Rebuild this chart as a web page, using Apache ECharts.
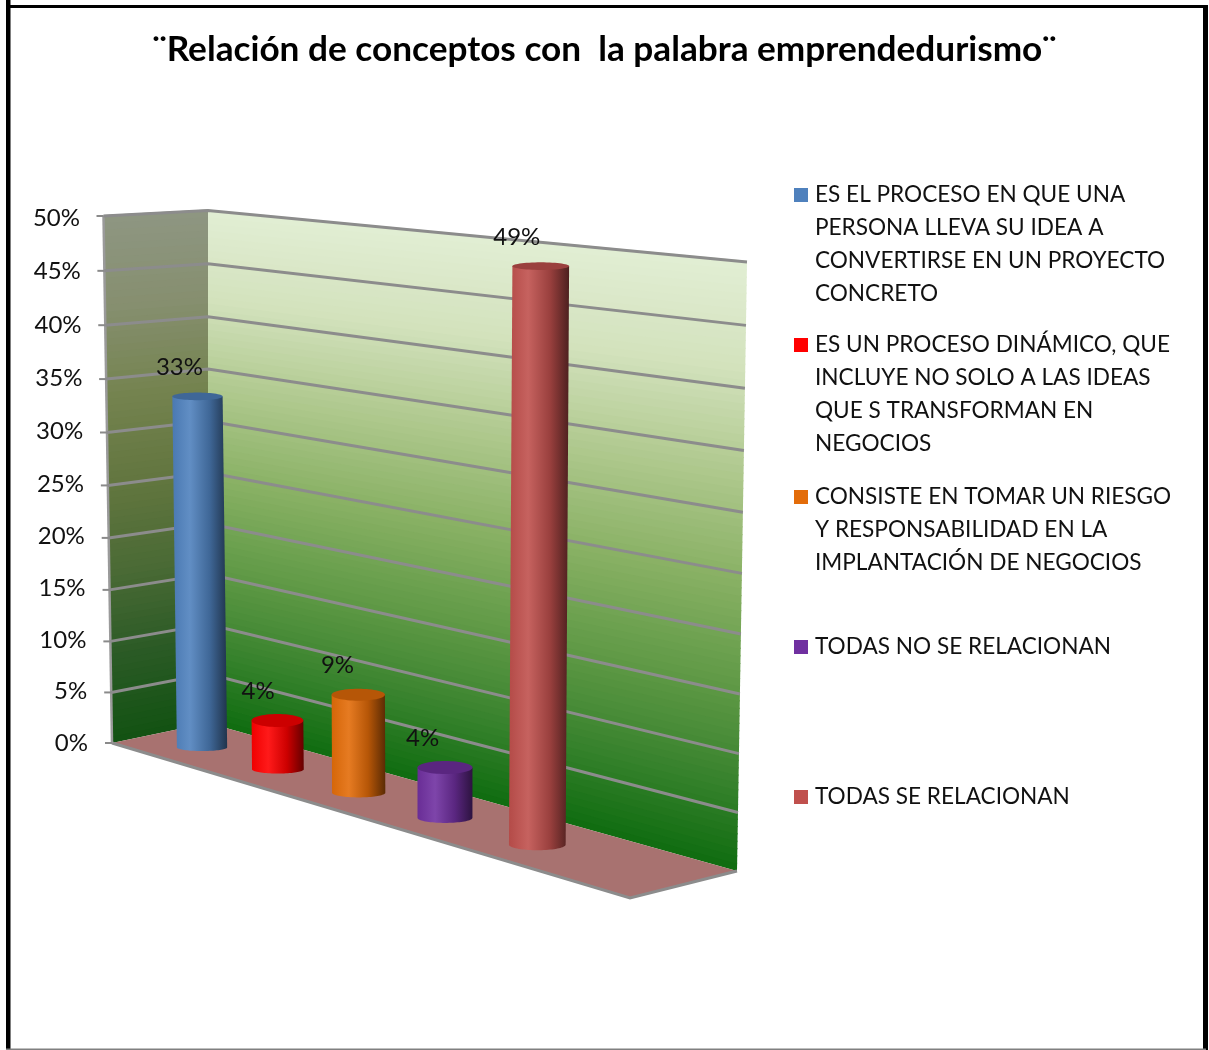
<!DOCTYPE html>
<html><head><meta charset="utf-8">
<style>html,body{margin:0;padding:0;background:#fff}#c{width:1209px;height:1050px}</style>
<script src="https://cdn.jsdelivr.net/npm/echarts@6/dist/echarts.min.js"></script>
</head><body><div id="c"></div>
<script>
const titleText = '¨Relación de conceptos con  la palabra emprendedurismo¨';
const categories = [
  'ES EL PROCESO EN QUE UNA\nPERSONA LLEVA SU IDEA A\nCONVERTIRSE EN UN PROYECTO\nCONCRETO',
  'ES UN PROCESO DINÁMICO, QUE\nINCLUYE NO SOLO A LAS IDEAS\nQUE S TRANSFORMAN EN\nNEGOCIOS',
  'CONSISTE EN TOMAR UN RIESGO\nY RESPONSABILIDAD EN LA\nIMPLANTACIÓN DE NEGOCIOS',
  'TODAS NO SE RELACIONAN',
  'TODAS SE RELACIONAN'
];
const values = [33, 4.4, 8.7, 4.3, 49];
const colors = ['#4f81bd', '#ff0000', '#e36c09', '#7030a0', '#c0504d'];
const yTicks = [0, 5, 10, 15, 20, 25, 30, 35, 40, 45, 50];
const wallRamp = ['#0f6c10', '#3c8530', '#649c49', '#8bb266', '#b0c98f', '#d3e2bd', '#e2eed4'];
const sideRamp = ['#125212', '#2a5a25', '#4a6a35', '#62763f', '#74834f', '#868f6f', '#8e9682'];

const FONT = 'Lato, Carlito, sans-serif';
const GRID = {left: 112, top: 218, right: 472, bottom: 307};
const H = 1050 - GRID.top - GRID.bottom;
const W = 1209 - GRID.left - GRID.right;
// perspective frame of the 3D box
const P = {
  backL: [[208, 723], [208, 210.5]], backR: [[737, 871], [747, 262]],
  frontL: [[112, 743], [103.5, 216]], floorFront: [630, 898],
  midLine: [[161.3, 735.5], [683.5, 887]]
};
const lerp = (a, b, t) => [a[0] + (b[0] - a[0]) * t, a[1] + (b[1] - a[1]) * t];
const warp = v => v - 0.045 * v * (1 - v);
const frac = api => yv => (GRID.top + H - api.coord([0, yv])[1]) / H;
const edge = (e, v) => lerp(e[0], e[1], warp(v));

function renderWalls(params, api) {
  const n = 80, kids = [];
  for (let i = 0; i < n; i++) {
    const a = i / n, b = (i + 1) / n + 0.002, m = (i + .5) / n;
    const c1 = echarts.color.lerp(m, wallRamp), c2 = echarts.color.lerp(m, sideRamp);
    kids.push({type: 'polygon', shape: {points: [edge(P.backL, a), edge(P.backR, a), edge(P.backR, b), edge(P.backL, b)]}, style: {fill: c1}});
    kids.push({type: 'polygon', shape: {points: [edge(P.frontL, a), edge(P.backL, a), edge(P.backL, b), edge(P.frontL, b)]}, style: {fill: c2}});
  }
  kids.push({type: 'polygon', shape: {points: [P.frontL[0], P.backL[0], P.backR[0], P.floorFront]}, style: {fill: '#a87270'}});
  kids.push({type: 'polyline', shape: {points: [P.frontL[0], P.floorFront, P.backR[0]]}, style: {stroke: '#8c8c8c', lineWidth: 3, fill: 'none'}});
  kids.push({type: 'polyline', shape: {points: [edge(P.frontL, 0), edge(P.frontL, 1)]}, style: {stroke: '#9a9a9a', lineWidth: 2.5, fill: 'none'}});
  return {type: 'group', children: kids};
}
function renderGrid(params, api) {
  const v = frac(api)(api.value(1)), kids = [];
  const a = edge(P.frontL, v), b = edge(P.backL, v), c = edge(P.backR, v);
  if (api.value(1) > 0) {
    kids.push({type: 'polyline', shape: {points: [a, b, c]}, style: {stroke: '#8c8c8c', lineWidth: 3, fill: 'none', lineJoin: 'miter'}});
  }
  kids.push({type: 'line', shape: {x1: a[0] - 7, y1: a[1], x2: a[0], y2: a[1]}, style: {stroke: '#8a8a8a', lineWidth: 2}});
  return {type: 'group', children: kids};
}
function renderBar(params, api) {
  const pt = api.coord([api.value(0), api.value(1)]);
  const u = (pt[0] - GRID.left) / W, p = (u - .1) / .8;
  const t = .078 + .642 * p / (p + (1 - p) * 1.14);
  const base = lerp(P.midLine[0], P.midLine[1], t);
  const v = (GRID.top + H - pt[1]) / H;
  const h = api.value(1) * (10.46 + 1.84 * t) + 1;
  const lean = (-.013 + .019 * (t - .078) / .642) * h;
  const hw = (49.5 + 10 * t) / 2;
  const top = [base[0] + lean, base[1] - h];
  const ryTop = Math.max(3.8, 7 - 6 * v), ryBot = 3.5 + 3 * t;
  const col = api.visual('color');
  const side = [], cap = [];
  side.push([top[0] - hw, top[1]]);
  for (let i = 0; i <= 40; i++) {
    const a = Math.PI * i / 40;
    side.push([base[0] - hw * Math.cos(a), base[1] + ryBot * Math.sin(a)]);
  }
  side.push([top[0] + hw, top[1]]);
  for (let i = 0; i < 60; i++) {
    const a = 2 * Math.PI * i / 60;
    cap.push([top[0] + hw * Math.cos(a), top[1] + ryTop * Math.sin(a)]);
  }
  const L = echarts.color.lerp;
  const grad = new echarts.graphic.LinearGradient(0, 0, 1, 0, [
    {offset: 0, color: L(.06, [col, '#000'])},
    {offset: .32, color: L(.1, [col, '#fff'])},
    {offset: .68, color: L(.2, [col, '#000'])},
    {offset: 1, color: L(.6, [col, '#000'])}
  ]);
  return {type: 'group', children: [
    {type: 'polygon', shape: {points: side}, style: {fill: grad}},
    {type: 'polygon', shape: {points: cap}, style: {fill: L(.2, [col, '#000'])}},
    {type: 'text', style: {text: Math.round(api.value(1)) + '%', x: top[0] - 17.3 - 9.3 * t, y: top[1] - 29, align: 'center', verticalAlign: 'middle', font: '24px ' + FONT, fill: '#111'}}
  ]};
}

const rich = {};
yTicks.forEach(t => {
  const f = t / 50;
  rich['t' + t] = {fontFamily: FONT, fontSize: 24, color: '#111', padding: [2 * 14 * f * (1 - f), 8 * f, 0, 0]};
});
const legendTops = [196, 346, 498, 648, 798];
const markerShift = 1;
const LH = 33;
const legends = categories.map((name, i) => {
  const n = name.split('\n').length;
  const total = 2 * n - 1;
  return {
    show: true, data: [name], orient: 'vertical', left: 794, top: legendTops[i] - markerShift - total * LH / 2 + 0,
    padding: 0, itemWidth: 14, itemHeight: 14, itemGap: 0, icon: 'rect', selectedMode: false,
    formatter: s => '\n'.repeat(n - 1) + s,
    textStyle: {fontFamily: FONT, fontSize: 22.6, color: '#111', lineHeight: LH, padding: [0, 0, 0, 2]}
  };
});

const chart = echarts.init(document.getElementById('c'), null, {renderer: 'canvas'});
chart.setOption({
  animation: false,
  backgroundColor: '#fff',
  title: {text: titleText, left: 'center', top: 27, textStyle: {fontFamily: FONT, fontSize: 35.2, fontWeight: 'bold', color: '#000'}},
  legend: legends,
  grid: {left: GRID.left, top: GRID.top, right: GRID.right, bottom: GRID.bottom},
  xAxis: {type: 'category', data: categories, show: false},
  yAxis: {
    type: 'value', min: 0, max: 50, interval: 5,
    axisLine: {show: false}, axisTick: {show: false}, splitLine: {show: false},
    axisLabel: {margin: 24, formatter: v => `{t${v}|${v}%}`, rich}
  },
  graphic: [
    {type: 'rect', shape: {x: 6, y: 0, width: 4.5, height: 1050}, style: {fill: '#000'}},
    {type: 'rect', shape: {x: 6, y: 5, width: 1202, height: 3}, style: {fill: '#000'}},
    {type: 'rect', shape: {x: 1203, y: 5, width: 5, height: 1045}, style: {fill: '#000'}},
    {type: 'rect', shape: {x: 6, y: 1048.5, width: 1200, height: 1.5}, style: {fill: '#808080'}}
  ],
  series: [
    {type: 'custom', name: 'muros', data: [[0, 0]], renderItem: renderWalls, silent: true, z: 1},
    {type: 'custom', name: 'rejilla', data: yTicks.map(t => [0, t]), renderItem: renderGrid, silent: true, z: 2},
    ...categories.map((name, i) => ({
      type: 'custom', name, data: [[i, values[i]]], renderItem: renderBar, z: 3,
      itemStyle: {color: colors[i]}
    }))
  ]
});
</script></body></html>
